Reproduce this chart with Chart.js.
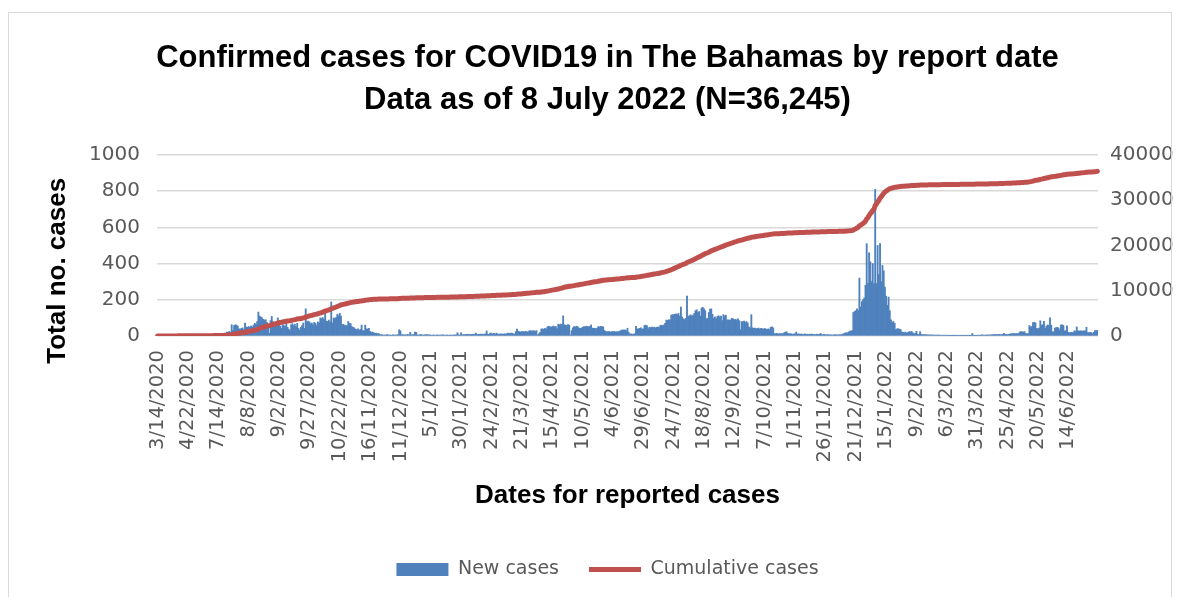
<!DOCTYPE html>
<html>
<head>
<meta charset="utf-8">
<script src="https://cdn.jsdelivr.net/npm/chart.js@4"></script>
<style>
	html, body { margin: 0; padding: 0; background: #fff; }
	#wrap { position: relative; width: 1185px; height: 597px; overflow: hidden; }
	#frame { position: absolute; left: 8px; top: 12px; width: 1164px; height: 600px; border: 1px solid #D9D9D9; box-sizing: border-box; pointer-events: none; }
	canvas { position: absolute; left: 0; top: 0; }
</style>
</head>
<body>
<div id="wrap">
	<canvas id="chart" width="1185" height="597"></canvas>
	<div id="frame"></div>
</div>
<script>

// tick labels, one for every 25th report date
const tickLabels = [
	'3/14/2020', '4/22/2020', '7/14/2020', '8/8/2020', '9/2/2020', '9/27/2020', '10/22/2020',
	'16/11/2020', '11/12/2020', '5/1/2021', '30/1/2021', '24/2/2021', '21/3/2021', '15/4/2021',
	'10/5/2021', '4/6/2021', '29/6/2021', '24/7/2021', '18/8/2021', '12/9/2021', '7/10/2021',
	'1/11/2021', '26/11/2021', '21/12/2021', '15/1/2022', '9/2/2022', '6/3/2022', '31/3/2022',
	'25/4/2022', '20/5/2022', '14/6/2022'
];

// new cases by report date

// 3/14/2020 - 7/13/2020 (report dates only)
const newCasesEarly2020 = [
	1, 0, 1, 1, 0, 2, 1, 0, 2, 3, 1, 2, 4, 1, 2, 3, 1, 4, 2, 3, 5, 2, 4, 3, 2,
	2, 1, 3, 1, 2, 1, 1, 2, 1, 3, 1, 2, 1, 1, 2, 1, 1, 2, 1, 1, 2, 1, 3, 2, 4
];

// 7/14/2020 - 31/12/2020 (daily)
const newCasesLate2020 = [
	8, 6, 10, 12, 9, 15, 14, 22, 20, 25, 18, 62, 30, 58, 62, 60, 55, 40, 38, 42, 45, 35, 71, 50, 48,
	52, 48, 55, 50, 60, 70, 65, 80, 132, 110, 105, 100, 92, 88, 90, 75, 45, 15, 85, 108, 80, 72, 70, 68, 100,
	60, 55, 42, 62, 58, 52, 68, 48, 38, 30, 62, 68, 58, 65, 52, 70, 42, 32, 48, 58, 72, 42, 150, 78, 82,
	78, 68, 72, 62, 75, 70, 58, 78, 72, 100, 96, 102, 92, 140, 82, 80, 88, 78, 188, 72, 100, 96, 102, 120, 112,
	125, 110, 62, 65, 58, 60, 55, 80, 70, 68, 52, 48, 45, 38, 35, 40, 32, 36, 60, 30, 28, 60, 40, 38, 42,
	25, 20, 22, 18, 15, 16, 12, 14, 8, 6, 7, 5, 6, 4, 8, 5, 6, 4, 5, 7, 4, 6, 5, 8, 35,
	28, 6, 8, 5, 7, 6, 9, 5, 20, 7, 6, 8, 22, 20, 6, 5, 7, 8, 6, 5, 7
];

// 1/1/2021 - 31/12/2021
const newCases2021 = [
	6, 8, 5, 7,
	5, 4, 6, 5, 4, 6, 5, 4, 6, 5, 7, 5, 4, 6, 5, 4, 6, 5, 4, 6, 5, 7, 18, 6, 5,
	18, 6, 8, 7, 9, 8, 10, 7, 9, 8, 10, 9, 16, 8, 10, 9, 11, 8, 10, 9, 12, 28, 10, 9, 16,
	16, 10, 15, 9, 16, 12, 10, 11, 12, 10, 11, 12, 10, 16, 15, 14, 16, 15, 12, 10, 24, 38, 26, 24, 22,
	24, 25, 22, 26, 24, 22, 28, 30, 27, 29, 28, 26, 30, 6, 12, 20, 38, 40, 36, 42, 38, 50, 54, 52, 48,
	52, 55, 50, 53, 40, 65, 62, 66, 64, 111, 62, 60, 58, 63, 60, 6, 30, 45, 52, 50, 54, 52, 44, 42, 43,
	48, 52, 50, 54, 52, 51, 53, 61, 44, 42, 43, 40, 44, 52, 50, 53, 52, 50, 30, 25, 24, 23, 25, 22, 24,
	24, 25, 22, 24, 23, 25, 28, 33, 32, 34, 33, 30, 43, 20, 10, 12, 9, 11, 12, 53, 38, 40, 42, 45, 38,
	40, 58, 60, 57, 40, 48, 46, 50, 47, 49, 45, 48, 50, 47, 58, 60, 57, 61, 70, 88, 86, 90, 88, 115, 118,
	118, 120, 122, 118, 125, 110, 160, 105, 95, 90, 98, 220, 108, 112, 117, 110, 115, 125, 140, 145, 130, 135, 110, 155, 158,
	150, 140, 95, 98, 130, 148, 150, 120, 98, 105, 95, 108, 112, 105, 110, 85, 118, 110, 115, 88, 90, 86, 90, 98, 95,
	90, 92, 88, 95, 85, 35, 80, 78, 82, 75, 80, 72, 50, 45, 118, 45, 42, 44, 40, 42, 44, 38, 42, 40, 38,
	42, 38, 36, 40, 35, 48, 50, 45, 14, 12, 15, 10, 13, 12, 14, 11, 18, 20, 24, 14, 12, 13, 12, 10, 11,
	12, 22, 10, 12, 9, 11, 10, 8, 12, 9, 10, 8, 11, 9, 10, 8, 9, 7, 10, 8, 9, 14, 8, 7, 9,
	7, 6, 8, 5, 7, 6, 5, 7, 6, 8, 5, 7, 6, 8, 10, 12, 16, 18, 17, 22, 25, 28, 30, 130, 135,
	140, 150, 140, 320, 160, 190, 200, 210, 280, 510, 290
];

// 1/1/2022 - 8/7/2022
const newCases2022 = [
	460, 410, 300, 400, 290, 810, 290, 500, 340, 510, 300, 390, 360, 270,
	220, 170, 215, 140, 90, 75, 80, 70, 35, 40, 40, 38, 35, 22, 20, 18, 22, 15, 20, 24, 22, 25, 18, 12, 15,
	26, 10, 8, 24, 9, 8, 7, 8, 6, 7, 6, 5, 6, 5, 6, 5, 4, 5, 6, 4, 5, 4, 5, 4, 5,
	4, 3, 4, 3, 4, 3, 4, 3, 4, 3, 4, 3, 4, 3, 4, 3, 4, 3, 4, 3, 4, 14, 3, 4, 3,
	4, 5, 4, 5, 6, 5, 4, 6, 5, 6, 5, 7, 6, 8, 7, 9, 8, 7, 9, 8, 7, 9, 15, 8, 9,
	8, 9, 10, 13, 12, 14, 13, 12, 14, 13, 22, 24, 23, 22, 24, 14, 12, 13, 58, 50, 52, 74, 76, 72, 42,
	40, 44, 84, 60, 62, 81, 42, 55, 61, 58, 100, 60, 23, 24, 44, 46, 48, 44, 33, 60, 62, 58, 28, 30, 56,
	20, 18, 19, 20, 18, 29, 25, 50, 28, 27, 29, 28, 27, 29, 28, 48, 19, 18, 20, 19, 13, 20, 30, 29, 31
];

const newCases = [ ...newCasesEarly2020, ...newCasesLate2020, ...newCases2021, ...newCases2022 ];

// cumulative cases are the running total of the new cases
const cumulativeCases = [];
newCases.reduce( ( total, n ) => {

	cumulativeCases.push( total + n );
	return total + n;

}, 0 );

const labels = newCases.map( ( n, i ) => i % 25 === 0 ? tickLabels[ i / 25 ] : '' );

const tickFont = { family: 'DejaVu Sans', size: 20 };
const axisTitleFont = { family: 'Liberation Sans', weight: 'bold', size: 26, lineHeight: 1.2 };
const grey = '#595959';

const config = {
	data: {
		labels: labels,
		datasets: [ {
			type: 'bar',
			label: 'New cases',
			data: newCases,
			yAxisID: 'y',
			backgroundColor: '#4F81BD',
			borderWidth: 0,
			barPercentage: 1,
			categoryPercentage: 1,
			pointStyle: 'rect',
			order: 2
		}, {
			type: 'line',
			label: 'Cumulative cases',
			data: cumulativeCases,
			yAxisID: 'y2',
			borderColor: '#C0504D',
			backgroundColor: '#C0504D',
			borderWidth: 5,
			borderCapStyle: 'round',
			borderJoinStyle: 'round',
			pointRadius: 0,
			pointStyle: 'line',
			tension: 0,
			order: 1
		} ]
	},
	options: {
		responsive: false,
		animation: false,
		layout: {
			padding: { left: 30, right: 0, top: 0, bottom: 8 }
		},
		plugins: {
			title: {
				display: true,
				text: [ 'Confirmed cases for COVID19 in The Bahamas by report date', 'Data as of 8 July 2022 (N=36,245)' ],
				color: '#000',
				font: { family: 'Liberation Sans', weight: 'bold', size: 31, lineHeight: 1.355 },
				padding: { top: 37, bottom: 34 }
			},
			legend: {
				position: 'bottom',
				labels: {
					usePointStyle: true,
					pointStyleWidth: 52,
					boxHeight: 13,
					padding: 30,
					color: grey,
					font: { family: 'DejaVu Sans', size: 19 },
					sort: ( a, b ) => a.datasetIndex - b.datasetIndex
				}
			},
			tooltip: { enabled: false }
		},
		scales: {
			x: {
				type: 'category',
				grid: { display: false, drawTicks: false },
				border: { display: false },
				ticks: {
					autoSkip: false,
					minRotation: 90,
					maxRotation: 90,
					padding: 14,
					color: grey,
					font: { family: 'DejaVu Sans', size: 19.5 }
				},
				title: {
					display: true,
					text: 'Dates for reported cases',
					color: '#000',
					font: axisTitleFont,
					padding: { top: 0, bottom: 19 }
				},
				afterFit: scale => { scale.height = 194; }
			},
			y: {
				position: 'left',
				min: 0,
				max: 1000,
				grid: { color: '#D9D9D9', lineWidth: 1.5, drawTicks: false },
				border: { display: false },
				ticks: { stepSize: 200, padding: 17, color: grey, font: tickFont, callback: v => v },
				title: {
					display: true,
					// trailing spaces move the centred title down, as in the original
					text: 'Total no. cases       ',
					color: '#000',
					font: axisTitleFont,
					padding: { top: 12, bottom: 0 }
				},
				afterFit: scale => { scale.width = 127; }
			},
			y2: {
				position: 'right',
				min: 0,
				max: 40000,
				grid: { display: false, drawTicks: false },
				border: { display: false },
				ticks: { stepSize: 5000, padding: 12, color: grey, font: tickFont, callback: v => v },
				afterFit: scale => { scale.width = 87; }
			}
		}
	}
};

const chart = new Chart( document.getElementById( 'chart' ), config );

</script>
</body>
</html>
